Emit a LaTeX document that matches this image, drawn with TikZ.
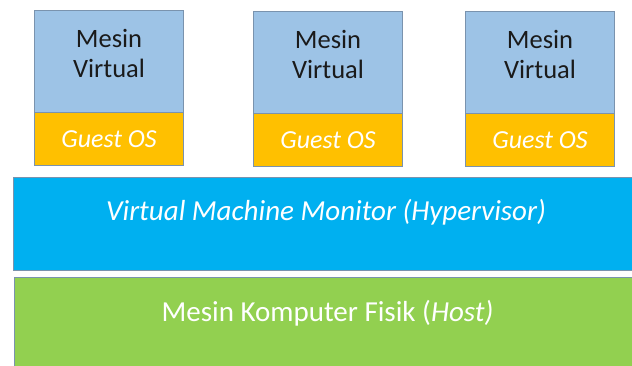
\documentclass[tikz,border=0pt]{standalone}
\usepackage{fontspec}
\setmainfont{Carlito}
\definecolor{vmblue}{HTML}{9DC3E6}
\definecolor{gold}{HTML}{FFC000}
\definecolor{hyper}{HTML}{00B0F0}
\definecolor{host}{HTML}{92D050}
\definecolor{edge}{HTML}{7A93AE}
\definecolor{txt}{HTML}{1A1A1A}
\tikzset{
  box/.style={draw=edge, line width=1.1pt, anchor=north west, inner sep=0pt},
  vmbox/.style={box, fill=vmblue, minimum width=149pt, minimum height=102pt},
  osbox/.style={box, fill=gold, minimum width=149pt, minimum height=53pt},
  vmtext/.style={font=\fontsize{26.5}{30}\selectfont, text=txt, align=center, inner sep=0pt},
  ostext/.style={font=\fontsize{26}{28}\selectfont\itshape, text=white, inner sep=0pt},
  bigtext/.style={font=\fontsize{29}{32}\selectfont, text=white, inner sep=0pt}
}
\begin{document}
\begin{tikzpicture}[x=1pt,y=-1pt]
\useasboundingbox (0,0) rectangle (632,365);
\fill[white] (0,0) rectangle (632,365);
% virtual machines
\node[vmbox] (vm1) at (34,10) {};
\node[osbox] (os1) at (34,112) {};
\node[vmbox] (vm2) at (253,11) {};
\node[osbox] (os2) at (253,113) {};
\node[vmbox] (vm3) at (465,11) {};
\node[osbox] (os3) at (465,113) {};
\foreach \i in {1,2,3}{
  \node[vmtext, anchor=north] (vt\i) at ([yshift=-19pt]vm\i.north) {Mesin\\Virtual};
  \node[ostext] (ot\i) at (os\i.center) {Guest OS};
}
% hypervisor
\node[box, fill=hyper, minimum width=625pt, minimum height=93pt] (hv) at (13,177) {};
\node[bigtext, font=\fontsize{29}{32}\selectfont\itshape] (hvt) at ([yshift=11.5pt]hv.center) {Virtual Machine Monitor (Hypervisor)};
% host
\node[box, fill=host, minimum width=625pt, minimum height=100pt] (hs) at (14,277) {};
\node[bigtext] (hst) at (327.5,313) {Mesin Komputer Fisik (\textit{Host)}};
\end{tikzpicture}
\end{document}
